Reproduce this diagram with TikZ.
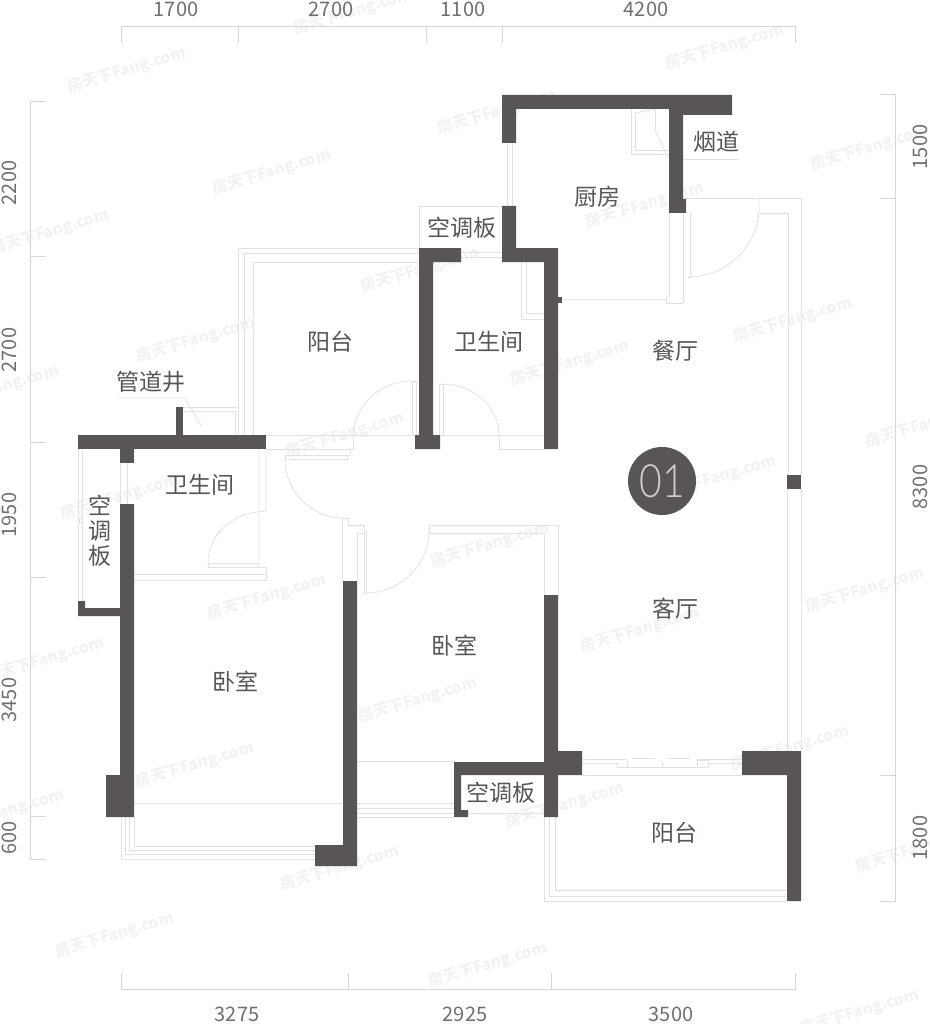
\documentclass[tikz,border=0pt]{standalone}
\usepackage{fontspec}
\setmainfont{Noto Sans CJK SC}
\newfontfamily\markfont{Lato Light}
\definecolor{walldark}{HTML}{595455}
\definecolor{marktext}{HTML}{CFCDCD}
\definecolor{thingray}{HTML}{E2E2E2}
\definecolor{dimgray}{HTML}{D6D6D6}
\definecolor{stampgray}{HTML}{F2F2F2}
\begin{document}
\begin{tikzpicture}[
  x=1pt, y=-1pt,
  wall/.style={fill=walldark, draw=none},
  thinline/.style={draw=thingray, line width=0.8pt},
  dimline/.style={draw=dimgray, line width=1pt},
  roomlabel/.style={font=\fontsize{23}{23}\selectfont, text=walldark, inner sep=0pt},
  dimlabel/.style={font=\fontsize{20}{20}\selectfont, text=walldark!85, inner sep=0pt},
  stamp/.style={font=\fontsize{15.5}{15.5}\selectfont\bfseries, text=stampgray, rotate=17, inner sep=0pt},
]
\useasboundingbox (0,0) rectangle (929,1024);

% Watermarks
\foreach \sx/\sy in {127/70, 353/12, 497/112, 725/47, 272/172, 870/148, 50/232, 645/205, 420/270, 793/320,
  196/340, 570/363, 0/388, 345/435, 925/425, 717/478, 120/497, 490/545, 267/597, 640/630,
  865/590, 45/660, 418/700, 195/765, 790/748, 565/805, 5/812, 340/868, 115/935, 488/965,
  915/850, 860/1012}
  \node[stamp] at (\sx,\sy) {房天下Fang.com};

% Dimension lines
\draw[dimline] (121,43) -- (121,27) -- (795,27) -- (795,43);
\foreach \tx in {238, 426, 502} \draw[dimline] (\tx,27) -- (\tx,43);
\draw[dimline] (46,102) -- (30,102) -- (30,859) -- (46,859);
\foreach \ty in {256, 442, 577, 816} \draw[dimline] (30,\ty) -- (46,\ty);
\draw[dimline] (880,95) -- (895,95) -- (895,901) -- (880,901);
\foreach \ty in {199, 775} \draw[dimline] (880,\ty) -- (895,\ty);
\draw[dimline] (121,973) -- (121,989) -- (795,989) -- (795,973);
\foreach \tx in {348, 551} \draw[dimline] (\tx,973) -- (\tx,989);

\node[dimlabel] (top1) at (176,9) {1700};
\node[dimlabel] (top2) at (331,9) {2700};
\node[dimlabel] (top3) at (463,9) {1100};
\node[dimlabel] (top4) at (646,9) {4200};
\node[dimlabel, rotate=90] (left1) at (9,183) {2200};
\node[dimlabel, rotate=90] (left2) at (9,350) {2700};
\node[dimlabel, rotate=90] (left3) at (9,515) {1950};
\node[dimlabel, rotate=90] (left4) at (9,700) {3450};
\node[dimlabel, rotate=90] (left5) at (9,838) {600};
\node[dimlabel, rotate=90] (right1) at (920,147) {1500};
\node[dimlabel, rotate=90] (right2) at (920,487) {8300};
\node[dimlabel, rotate=90] (right3) at (920,838) {1800};
\node[dimlabel] (bot1) at (237,1014) {3275};
\node[dimlabel] (bot2) at (465,1014) {2925};
\node[dimlabel] (bot3) at (671,1014) {3500};

% Kitchen and flue
\draw[thinline] (507,143) -- (507,206) (512,143) -- (512,206);
\draw[thinline] (631,109) -- (631,154) -- (669,154);
\draw[thinline] (635,113) -- (635,150) -- (669,150);
\draw[thinline] (635,113) -- (655,109) (655,130) -- (668,158);
\draw[thinline] (655,109) -- (655,130);
\draw[thinline] (683,159) -- (739,159);
\draw[thinline] (669,213) -- (669,297) (683,213) -- (683,303);
\draw[thinline] (562,299) -- (666,299);
\draw[thinline] (666,297) -- (666,303) -- (683,303);
\draw[thinline] (521,262) -- (521,319) -- (544,319);
\draw[thinline] (526,262) -- (526,313) -- (544,313);

% Dining room outline and entrance door
\draw[thinline] (686,198) -- (801,198) -- (801,475);
\draw[thinline] (760,213) -- (788,213) -- (788,475);
\draw[thinline] (690,213) -- (690,277) -- (688,277);
\draw[thinline] (759,198) -- (759,207) .. controls (759,246) and (727,277) .. (688,277);

% Air conditioner board, balcony and pipe well
\draw[thinline] (419,248) -- (419,206) -- (502,206);
\draw[thinline] (461,252) -- (502,252) (461,257) -- (502,257);
\draw[thinline] (238,435) -- (238,248) -- (419,248);
\draw[thinline] (244,435) -- (244,253) -- (419,253);
\draw[thinline] (253,435) -- (253,262) -- (419,262);
\draw[thinline] (183,407) -- (237,407);
\draw[thinline] (183,411) -- (235,411) -- (235,435);
\draw[thinline] (117,398) -- (185,398) -- (202,427);

% Corridor and doors
\draw[thinline] (266,435) -- (415,435);
\draw[thinline] (266,449) -- (353,449) -- (353,435);
\draw[thinline] (350,449) -- (350,455) -- (285,455) -- (285,459) -- (347,459) -- (347,455);
\draw[thinline] (285,459) .. controls (285,492) and (312,518) .. (343,518);
\draw[thinline] (343,518) -- (348,518) -- (348,525) -- (364,525);
\draw[thinline] (342,518) -- (342,581) (357,533) -- (357,581) (357,533) -- (364,533);
\draw[thinline] (364,525) -- (364,593) -- (366,593) -- (366,531);
\draw[thinline] (429,531) .. controls (429,565) and (400,593) .. (366,593);
\draw[thinline] (429,525) -- (558,525) -- (558,595);
\draw[thinline] (429,525) -- (429,533) -- (544,533) -- (544,595);
\draw[thinline] (412,381) -- (412,435) (416,381) -- (416,435) (412,381) -- (416,381);
\draw[thinline] (353,435) .. controls (355,405) and (380,381) .. (412,381);
\draw[thinline] (439,384) -- (439,435) (443,384) -- (443,435) (439,384) -- (443,384);
\draw[thinline] (443,384) .. controls (474,384) and (499,408) .. (499,435);
\draw[thinline] (440,435) -- (544,435);
\draw[thinline] (499,435) -- (499,449) -- (544,449);

% Left bathroom and air conditioner board
\draw[thinline] (259,449) -- (259,567) (266,449) -- (266,511) -- (258,512);
\draw[thinline] (258,512) .. controls (231,514) and (208,536) .. (208,563);
\draw[thinline] (208,563) -- (259,563) (208,563) -- (208,567) -- (266,567) -- (266,580) -- (134,580);
\draw[thinline] (134,574) -- (266,574);
\draw[thinline] (78,449) -- (78,601) (82,449) -- (82,601);
\draw[thinline] (79,518) rectangle (82,522);
\draw[thinline] (127,463) -- (127,504) (120,463) -- (120,504);

% Lower bay windows
\draw[thinline] (134,803) -- (342,803);
\draw[thinline] (121,817) -- (121,859) -- (315,859);
\draw[thinline] (125,817) -- (125,854) -- (315,854);
\draw[thinline] (129,817) -- (129,850) -- (315,850);
\draw[thinline] (134,817) -- (134,846) -- (315,846);
\draw[thinline] (357,761) -- (454,761);
\draw[thinline] (357,803) -- (454,803) (357,808) -- (454,808) (357,813) -- (454,813) (357,817) -- (454,817);
\draw[thinline] (468,813) -- (544,813);

% South balcony
\draw[thinline] (544,817) -- (544,901) -- (787,901);
\draw[thinline] (549,817) -- (549,896) -- (787,896);
\draw[thinline] (555,817) -- (555,890) -- (787,890);
\draw[thinline] (582,775) -- (742,775);
\draw[thinline] (582,759) -- (627,759) (582,763) -- (617,763);
\draw[thinline] (617,763) -- (617,767) -- (708,767) -- (708,760) -- (697,760) -- (697,767);
\draw[thinline] (627,760) -- (627,767) (662,763) -- (662,767);
\draw[thinline] (632,758) -- (655,758) (668,758) -- (690,758);
\draw[thinline] (708,763) -- (742,763) (697,759) -- (742,759);
\draw[thinline] (787,489) -- (787,751) (801,489) -- (801,751);

% Walls
\fill[wall] (502,95) -- (732,95) -- (732,115) -- (683,115) -- (683,199) -- (686,199) -- (686,213)
  -- (669,213) -- (669,109) -- (516,109) -- (516,143) -- (502,143) -- cycle;
\fill[wall] (502,206) -- (516,206) -- (516,248) -- (558,248) -- (558,449) -- (544,449) -- (544,262) -- (502,262) -- cycle;
\fill[wall] (558,297) rectangle (562,303);
\fill[wall] (419,248) -- (461,248) -- (461,262) -- (433,262) -- (433,435) -- (440,435) -- (440,449)
  -- (415,449) -- (415,435) -- (419,435) -- cycle;
\fill[wall] (78,435) rectangle (266,449);
\fill[wall] (176,407) rectangle (183,435);
\fill[wall] (120,449) rectangle (134,463);
\fill[wall] (120,504) -- (134,504) -- (134,817) -- (106,817) -- (106,775) -- (120,775) -- cycle;
\fill[wall] (78,601) -- (85,601) -- (85,608) -- (120,608) -- (120,616) -- (78,616) -- cycle;
\fill[wall] (343,581) -- (357,581) -- (357,866) -- (315,866) -- (315,845) -- (343,845) -- cycle;
\fill[wall] (544,595) -- (558,595) -- (558,751) -- (582,751) -- (582,775) -- (558,775) -- (558,817) -- (544,817)
  -- (544,775) -- (461,775) -- (461,810) -- (468,810) -- (468,817) -- (454,817) -- (454,762) -- (544,762) -- cycle;
\fill[wall] (742,751) -- (801,751) -- (801,901) -- (787,901) -- (787,775) -- (742,775) -- cycle;
\fill[wall] (787,475) rectangle (801,489);

% Floor mark
\node[circle, fill=walldark, minimum size=68pt, inner sep=0pt] (mark) at (662,481) {};
\node[text=marktext, font=\markfont\fontsize{46}{46}\selectfont, xscale=0.85, inner sep=0pt] (marktext) at (mark.center) {01};

% Room names
\node[roomlabel] (flue) at (716,142) {烟道};
\node[roomlabel] (kitchen) at (597,197) {厨房};
\node[roomlabel] (acupper) at (462,228) {空调板};
\node[roomlabel] (bathupper) at (489,342) {卫生间};
\node[roomlabel] (dining) at (675,351) {餐厅};
\node[roomlabel] (balconyupper) at (330,342) {阳台};
\node[roomlabel] (pipewell) at (151,382) {管道井};
\node[roomlabel] (bathleft) at (200,485) {卫生间};
\node[roomlabel, align=center] (acleft) at (100,531) {空\\[2pt]调\\[2pt]板};
\node[roomlabel] (bedleft) at (235,682) {卧室};
\node[roomlabel] (bedmid) at (454,646) {卧室};
\node[roomlabel] (living) at (675,609) {客厅};
\node[roomlabel] (aclower) at (501,793) {空调板};
\node[roomlabel] (balconylower) at (674,833) {阳台};

\end{tikzpicture}
\end{document}
